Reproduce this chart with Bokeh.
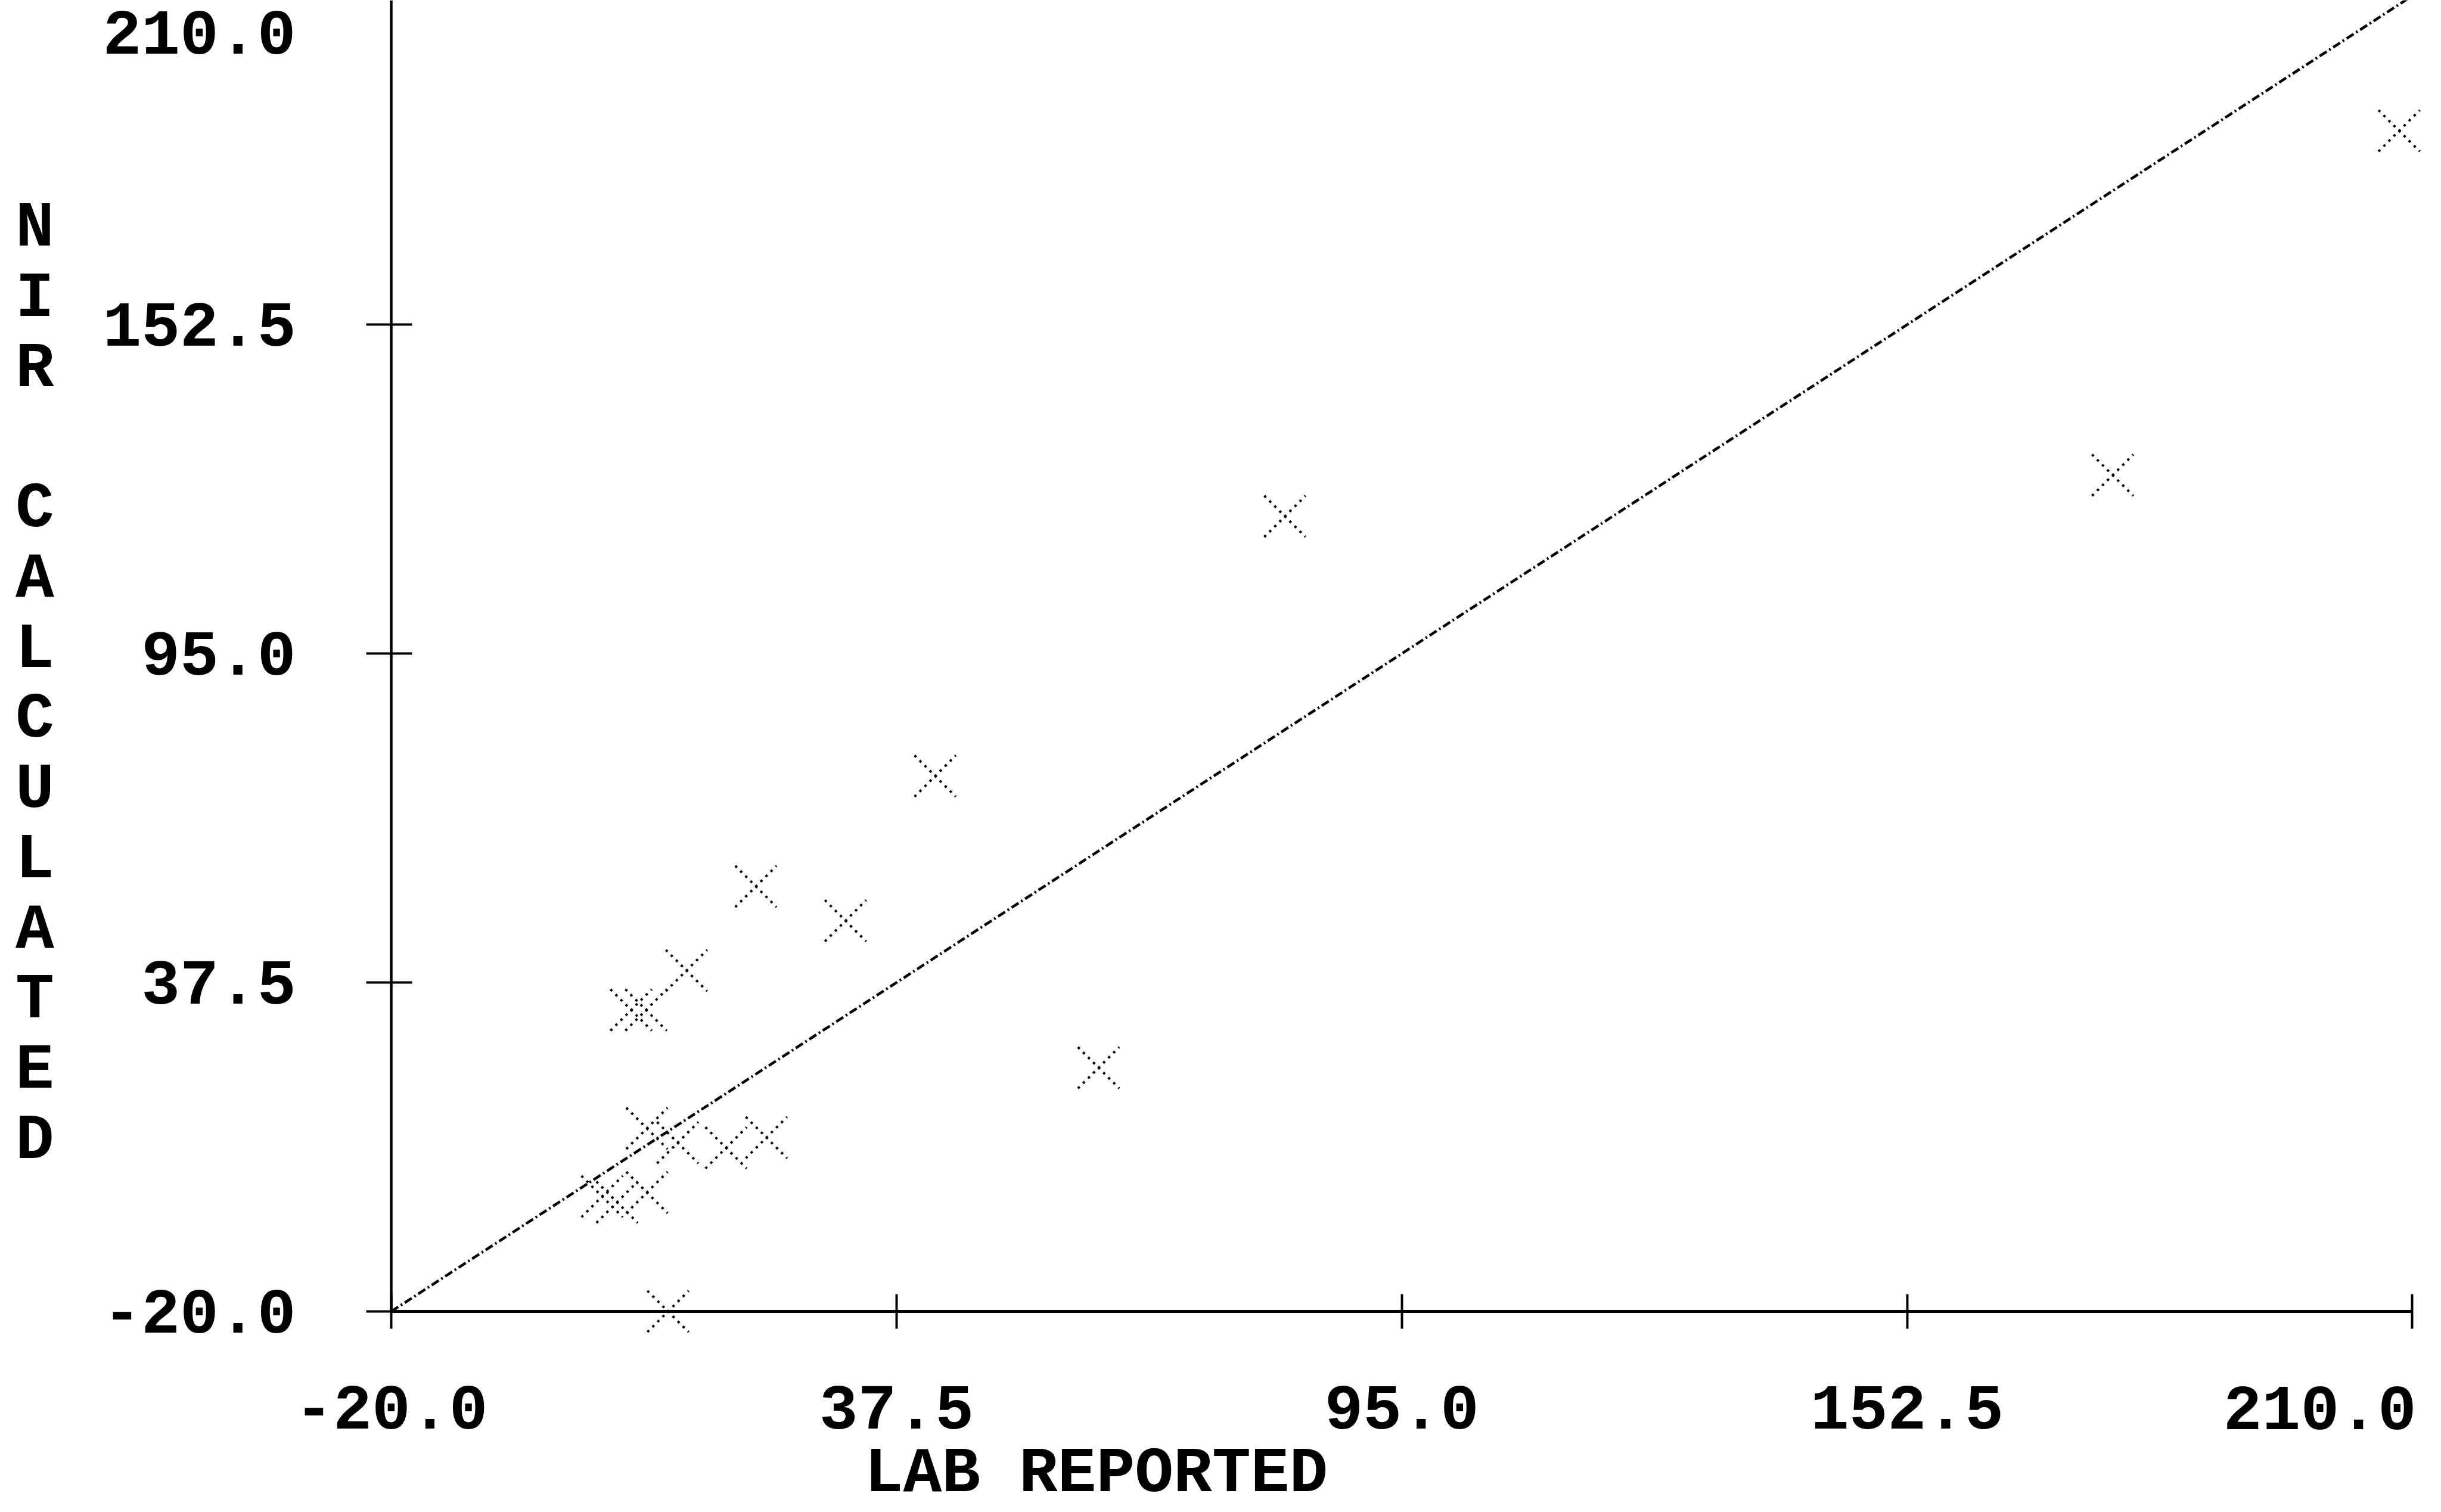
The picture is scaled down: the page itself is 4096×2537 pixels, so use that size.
from bokeh.plotting import figure
from bokeh.models import Range1d, FixedTicker, PrintfTickFormatter, Label
from bokeh.embed import file_html
from bokeh.resources import INLINE

# Laboratory reference values against NIR-calculated values
lab_reported = [208.5, 175.9, 81.7, 41.9, 60.5, 31.7, 21.5, 13.6, 7.3, 9.0,
                9.1, 12.6, 18.1, 22.7, 4.0, 5.7, 9.1, 11.5]
nir_calculated = [186.4, 126.2, 119.0, 73.6, 22.6, 48.3, 54.3, 39.6, 32.7, 32.7,
                  12.0, 9.5, 8.6, 10.4, 0.1, -0.9, 0.8, -20.0]

x_ticks = [-20.0, 37.5, 95.0, 152.5, 210.0]
y_ticks = [-20.0, 37.5, 95.0, 152.5, 210.0]
x_title = "LAB REPORTED"
y_title = "NIR CALCULATED"

FONT = "Liberation Mono"
FS = "108px"
W, H = 4096, 2537

# page layout: where the axes cross and how many pixels one unit spans
ORIGIN_X, ORIGIN_Y = 656, 2200
PX_X, PX_Y = 14.745, 9.598


def fmt(v):
    return "%.1f" % v


x0, y0 = x_ticks[0], y_ticks[0]
p = figure(width=W, height=H,
           x_range=Range1d(x0 - ORIGIN_X / PX_X, x0 + (W - ORIGIN_X) / PX_X),
           y_range=Range1d(y0 - (H - ORIGIN_Y) / PX_Y, y0 + ORIGIN_Y / PX_Y),
           output_backend="svg", toolbar_location=None,
           min_border=0, min_border_left=0, min_border_right=0,
           min_border_top=0, min_border_bottom=0)
p.title.visible = False
p.outline_line_color = None
p.grid.visible = False
p.background_fill_color = "white"
p.border_fill_color = "white"

for ax in (p.xaxis[0], p.yaxis[0]):
    ax.formatter = PrintfTickFormatter(format="%.1f")
    ax.minor_tick_line_color = None
    ax.axis_line_color = "black"
    ax.major_tick_line_color = "black"
    ax.major_tick_line_width = 4
    ax.major_label_text_font = FONT
    ax.major_label_text_font_size = FS
    ax.major_label_text_font_style = "bold"
    ax.major_label_text_color = "black"

# both axes cross at (-20, -20), inside the plotting area
xa = p.xaxis[0]
xa.ticker = FixedTicker(ticks=x_ticks)
xa.fixed_location = y0
xa.bounds = (x_ticks[0], x_ticks[-1])
xa.axis_line_width = 5
xa.major_tick_in = 29
xa.major_tick_out = 29
xa.major_label_standoff = 96
xa.major_label_overrides = {x_ticks[-1]: ""}

ya = p.yaxis[0]
ya.ticker = FixedTicker(ticks=y_ticks)
ya.fixed_location = x0
ya.bounds = (y_ticks[0], y_ticks[-1])
ya.axis_line_width = 4.5
ya.major_tick_in = 35
ya.major_tick_out = 42
ya.major_label_standoff = 118
ya.major_label_overrides = {y_ticks[-1]: ""}

# line of identity across the axis span
identity = [x_ticks[0], x_ticks[-1]]
p.line(x=identity, y=identity, line_color="black", line_width=4.5,
       line_dash="14 5 3 5")

p.scatter(x=lab_reported, y=nir_calculated, marker="x", size=98,
          line_color="black", line_width=4, line_dash="4 8")

text_kw = dict(text_font=FONT, text_font_size=FS, text_font_style="bold",
               text_color="black")

# end labels kept inside the page
p.add_layout(Label(x=x0, y=y_ticks[-1], text=fmt(y_ticks[-1]),
                   x_offset=-160, y_offset=-26, text_align="right",
                   text_baseline="top", **text_kw))
p.add_layout(Label(x=x_ticks[-1], y=y0, text=fmt(x_ticks[-1]),
                   x_offset=7, y_offset=-162, text_align="right",
                   text_baseline="middle", **text_kw))

# axis titles
p.add_layout(Label(x=x0, y=y0, text=x_title,
                   x_offset=1183, y_offset=-272, text_align="center",
                   text_baseline="middle", **text_kw))
p.add_layout(Label(x=x0, x_offset=-598, y=H - 1148, y_units="screen",
                   text="\n".join(y_title), text_align="center",
                   text_baseline="middle", text_line_height=0.965, **text_kw))

open("out.html", "w").write(file_html(p, INLINE))
